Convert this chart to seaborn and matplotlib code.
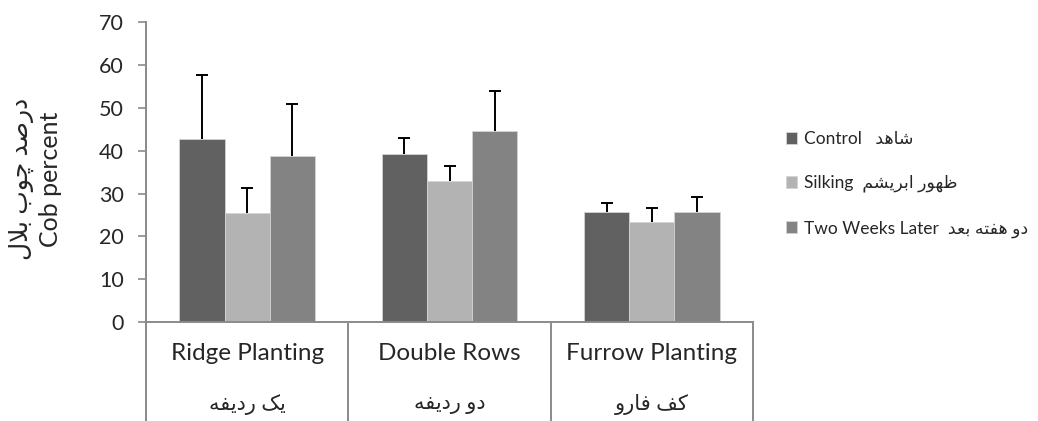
import numpy as np
import pandas as pd
import matplotlib
matplotlib.use('Agg')
import matplotlib.pyplot as plt
import matplotlib.transforms as mtransforms
import seaborn as sns

# data
categories = ['Ridge Planting', 'Double Rows', 'Furrow Planting']
categories_fa = ['یک ردیفه', 'دو ردیفه', 'کف فارو']
treatments = ['Control  ', 'Silking ', 'Two Weeks Later ']
treatments_fa = ['شاهد', 'ظهور ابریشم', 'دو هفته بعد']
control = [42.8, 39.3, 25.6]
silking = [25.5, 33.0, 23.3]
two_weeks = [38.8, 44.6, 25.6]
control_err = [14.9, 3.6, 2.1]
silking_err = [5.7, 3.4, 3.4]
two_weeks_err = [12.2, 9.5, 3.6]
y_label_fa = 'درصد چوب بلال'
y_label_en = 'Cob percent'
y_ticks = [0, 10, 20, 30, 40, 50, 60, 70]

colors = ['#616161', '#b3b3b3', '#838383']
axis_grey = '#8a8a8a'

# matplotlib has no arabic shaping, so use presentation forms in visual order
FORMS = {
    'ا': (0xFE8D, False), 'ب': (0xFE8F, True), 'ت': (0xFE95, True),
    'چ': (0xFB7A, True), 'د': (0xFEA9, False), 'ر': (0xFEAD, False),
    'ش': (0xFEB5, True), 'ص': (0xFEB9, True), 'ظ': (0xFEC5, True),
    'ع': (0xFEC9, True), 'ف': (0xFED1, True), 'ک': (0xFB8E, True),
    'ل': (0xFEDD, True), 'م': (0xFEE1, True), 'ه': (0xFEE9, True),
    'و': (0xFEED, False), 'ی': (0xFBFC, True),
}


def shape(text):
    out = []
    i = 0
    while i < len(text):
        c = text[i]
        if c not in FORMS:
            out.append(c)
            i += 1
            continue
        prev = text[i - 1] if i > 0 else ''
        join_prev = prev in FORMS and FORMS[prev][1]
        nxt = text[i + 1] if i + 1 < len(text) else ''
        # lam + alef ligature
        if c == 'ل' and nxt == 'ا':
            out.append(chr(0xFEFC if join_prev else 0xFEFB))
            i += 2
            continue
        join_next = FORMS[c][1] and nxt in FORMS
        if join_prev and join_next:
            form = 3
        elif join_prev:
            form = 1
        elif join_next:
            form = 2
        else:
            form = 0
        out.append(chr(FORMS[c][0] + form))
        i += 1
    return ''.join(reversed(out))


labels = [f'{en} {shape(fa)}' for en, fa in zip(treatments, treatments_fa)]

rows = []
for lab, vals in zip(labels, [control, silking, two_weeks]):
    for cat, v in zip(categories, vals):
        rows.append({'category': cat, 'treatment': lab, 'value': v})
df = pd.DataFrame(rows)

sns.set_style('white')
plt.rcParams['font.family'] = ['Lato', 'DejaVu Sans']

fig = plt.figure(figsize=(10.38, 4.21), dpi=100)
ax = fig.add_axes([0.1407, 0.2352, 0.5847, 0.7114])

sns.barplot(data=df, x='category', y='value', hue='treatment',
            hue_order=labels, order=categories, palette=colors,
            width=0.67, gap=0, errorbar=None, edgecolor='#d4d4d4',
            linewidth=0.6, ax=ax)

# upper-only error bars on each bar
for cont, errs in zip(ax.containers, [control_err, silking_err, two_weeks_err]):
    xs = [b.get_x() + b.get_width() / 2 for b in cont]
    hs = [b.get_height() for b in cont]
    eb = ax.errorbar(xs, hs, yerr=[np.zeros(len(errs)), errs], fmt='none',
                     ecolor='black', elinewidth=1.4, capsize=4.5,
                     capthick=1.4, zorder=5)
    eb[1][0].set_visible(False)  # hide the lower caps

ax.set_xlim(-0.5, 2.5)
ax.set_ylim(0, 70)
ax.set_yticks(y_ticks)
ax.set_xticks([])
ax.set_xlabel('')
ax.set_ylabel('')
ax.tick_params(axis='y', direction='out', length=6, width=1.2,
               color=axis_grey, labelsize=15.5, pad=10, left=True)

sns.despine(ax=ax)
for side in ['left', 'bottom']:
    ax.spines[side].set_color(axis_grey)
    ax.spines[side].set_linewidth(1.4)

# category separators running down past the axis
trans = mtransforms.blended_transform_factory(ax.transData, ax.transAxes)
for x in [-0.5, 0.5, 1.5, 2.5]:
    ax.plot([x, x], [0, -0.34], transform=trans, color=axis_grey,
            lw=1.4, clip_on=False, solid_capstyle='butt')

for i, (en, fa) in enumerate(zip(categories, categories_fa)):
    ax.text(i, -0.105, en, transform=trans, ha='center', va='center',
            fontsize=17.5)
    ax.text(i, -0.275, shape(fa), transform=trans, ha='center', va='center',
            fontsize=15)

fig.text(0.034, 0.574, shape(y_label_fa) + '\n' + y_label_en, rotation=90,
         ha='center', va='center', fontsize=18, linespacing=1.3)

ax.legend(loc='center left', bbox_to_anchor=(0.757, 0.562),
          bbox_transform=fig.transFigure, frameon=False, fontsize=12.5,
          handlelength=0.65, handleheight=0.65, handletextpad=0.4,
          labelspacing=1.6, borderpad=0, borderaxespad=0)

fig.savefig('out.png', dpi=100)
